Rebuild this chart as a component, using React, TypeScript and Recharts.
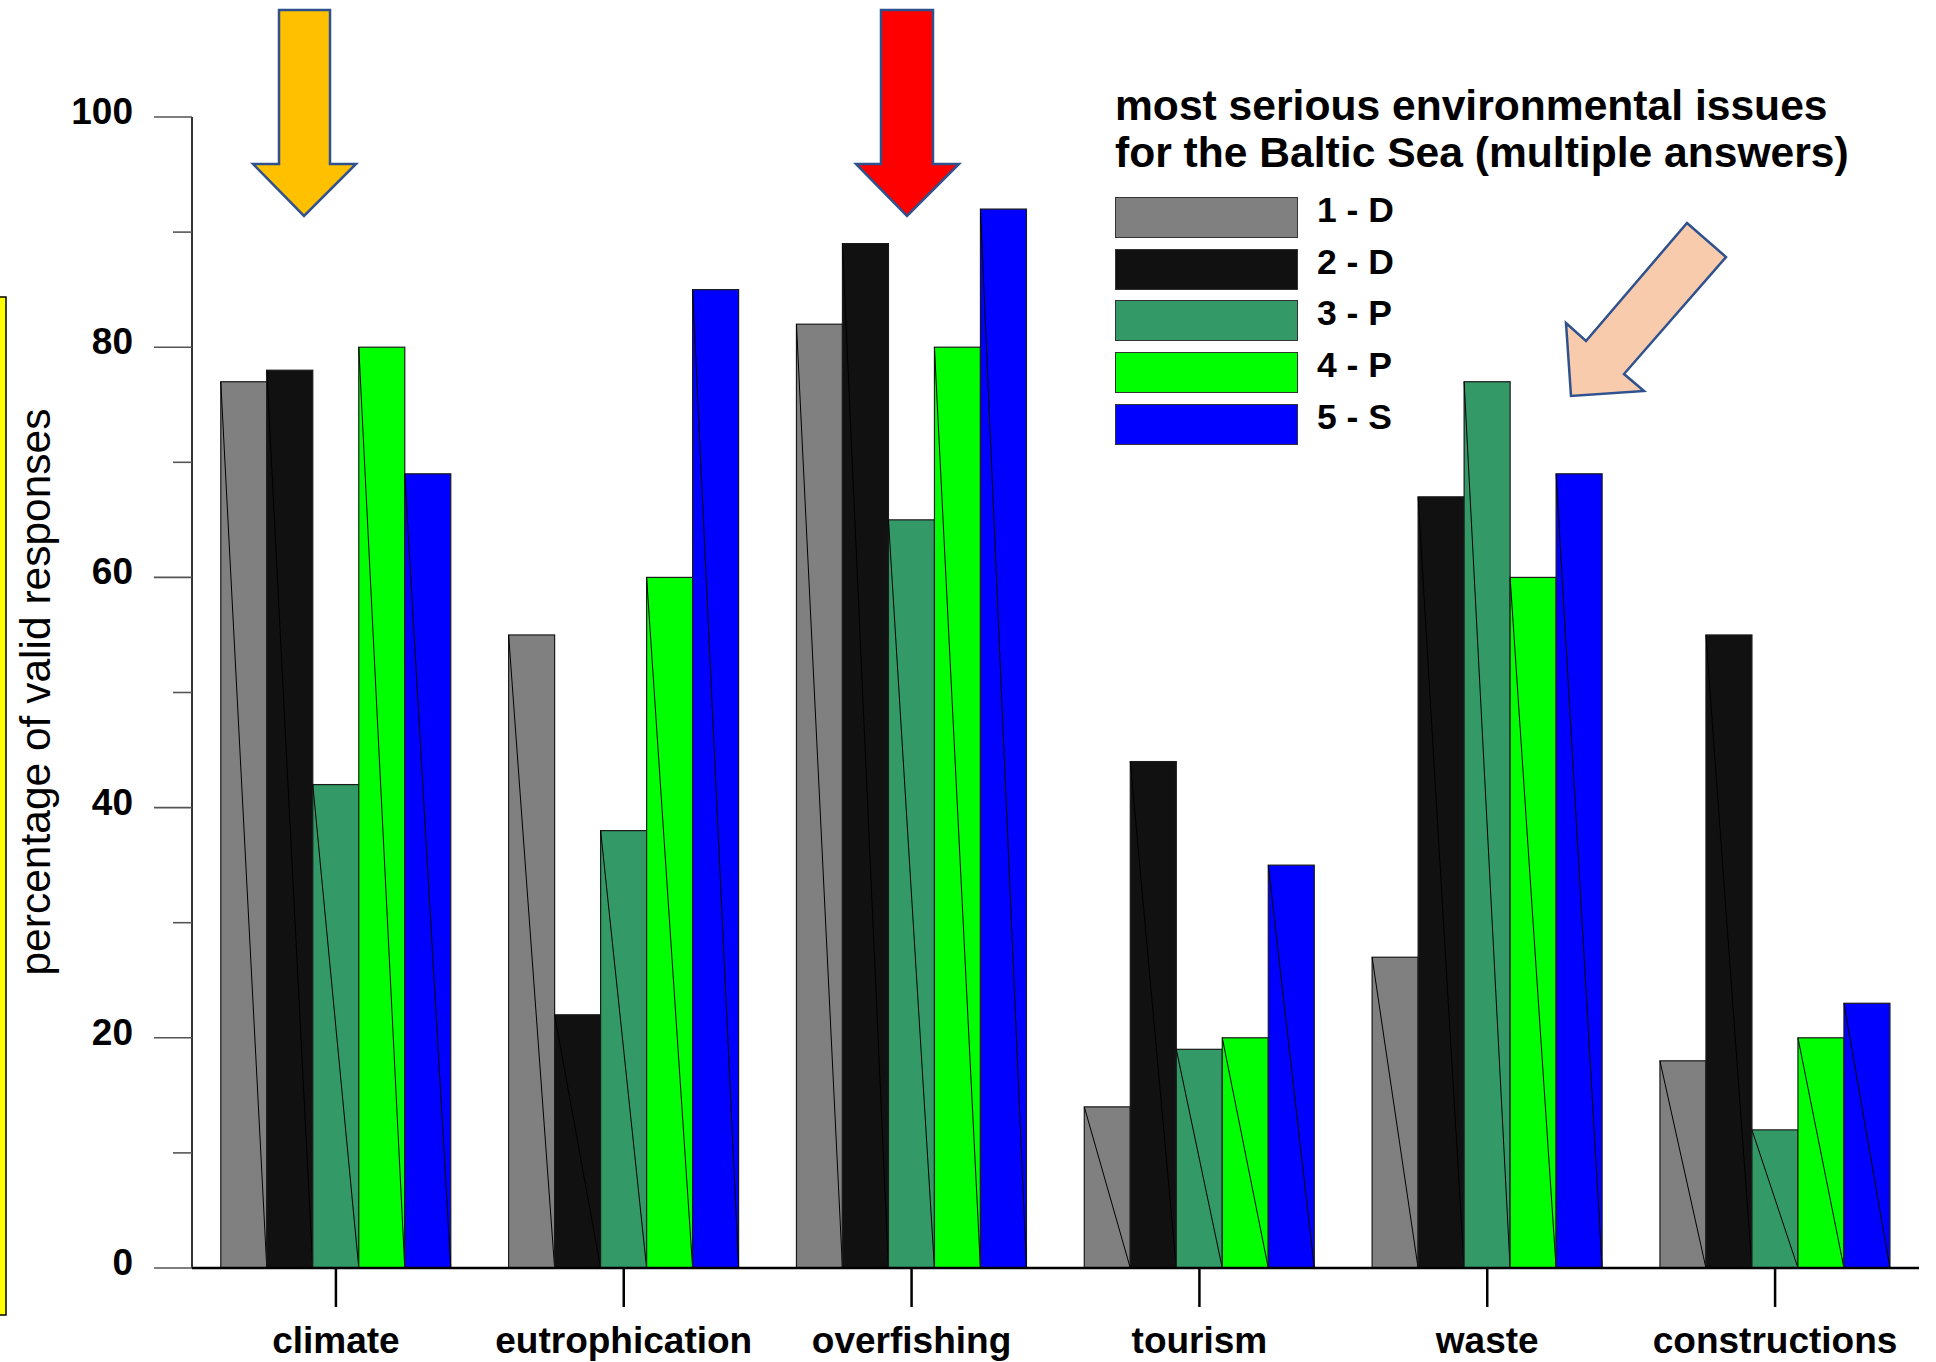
import { BarChart, Bar, XAxis, YAxis, Legend } from 'recharts'

const categories = ['climate', 'eutrophication', 'overfishing', 'tourism', 'waste', 'constructions']
const group1D = [77, 55, 82, 14, 27, 18]
const group2D = [78, 22, 89, 44, 67, 55]
const group3P = [42, 38, 65, 19, 77, 12]
const group4P = [80, 60, 80, 20, 60, 20]
const group5S = [69, 85, 92, 35, 69, 23]
const yTicks = [0, 10, 20, 30, 40, 50, 60, 70, 80, 90, 100]
const seriesKeys = ['d1', 'd2', 'p3', 'p4', 's5']
const seriesNames = ['1 - D', '2 - D', '3 - P', '4 - P', '5 - S']
const seriesColors = ['#808080', '#111111', '#339966', '#00ff00', '#0000ff']

const FONT = '"Liberation Sans", Arial, Helvetica, sans-serif'

const data = categories.map((name, i) => ({
  name,
  d1: group1D[i],
  d2: group2D[i],
  p3: group3P[i],
  p4: group4P[i],
  s5: group5S[i],
}))

// bar with the stray diagonal seen in the original export
function SlashedBar(props: any) {
  const { x, y, width, height, fill } = props
  if (!height) return null
  return (
    <g>
      <rect x={x} y={y} width={width} height={height} fill={fill} stroke="#1a1a1a" strokeWidth={1.2} />
      <line x1={x} y1={y} x2={x + width} y2={y + height} stroke="#000" strokeWidth={1} />
    </g>
  )
}

function YTick(props: any) {
  const { x, y, payload } = props
  const major = payload.value % 20 === 0
  return (
    <g>
      <line x1={x - (major ? 38 : 19)} y1={y} x2={x} y2={y} stroke="#555" strokeWidth={1.6} />
      {major && (
        <text
          x={x - 59}
          y={y}
          dy={7}
          textAnchor="end"
          fontSize={37}
          fontWeight="bold"
          fill="#000"
          fontFamily={FONT}
        >
          {payload.value}
        </text>
      )}
    </g>
  )
}

function renderLegend(props: any) {
  const payload = props.payload || []
  return (
    <div style={{ position: 'relative', fontFamily: FONT, color: '#000' }}>
      <div style={{ fontSize: 42.6, fontWeight: 'bold', lineHeight: '47px', whiteSpace: 'nowrap' }}>
        most serious environmental issues
        <br />
        for the Baltic Sea (multiple answers)
      </div>
      {payload.map((entry: any, i: number) => (
        <div key={i} style={{ position: 'absolute', left: 0, top: 115 + i * 51.7, height: 41 }}>
          <div
            style={{
              position: 'absolute',
              left: 0,
              top: 0,
              width: 181,
              height: 39,
              background: entry.color,
              border: '1.5px solid #333',
            }}
          />
          <div
            style={{
              position: 'absolute',
              left: 202,
              top: -7,
              fontSize: 35.5,
              fontWeight: 'bold',
              lineHeight: '41px',
              whiteSpace: 'nowrap',
            }}
          >
            {entry.value}
          </div>
        </div>
      ))}
    </div>
  )
}

export default function App() {
  return (
    <div style={{ position: 'absolute', left: 0, top: 0, width: 1936, height: 1362, background: '#fff' }}>
      <BarChart
        width={1936}
        height={1362}
        data={data}
        margin={{ top: 117, right: 17, bottom: 0, left: 0 }}
        barCategoryGap="10%"
        barGap={0}
      >
        <YAxis
          type="number"
          domain={[0, 100]}
          ticks={yTicks}
          interval={0}
          width={192}
          tickSize={0}
          tickMargin={0}
          tickLine={false}
          axisLine={{ stroke: '#000', strokeWidth: 1.6 }}
          tick={<YTick />}
        />
        {seriesKeys.map((key, i) => (
          <Bar
            key={key}
            dataKey={key}
            name={seriesNames[i]}
            fill={seriesColors[i]}
            shape={<SlashedBar />}
            isAnimationActive={false}
          />
        ))}
        <XAxis
          dataKey="name"
          interval={0}
          height={94}
          tickSize={39}
          tickMargin={20}
          axisLine={{ stroke: '#000', strokeWidth: 2.5 }}
          tickLine={{ stroke: '#000', strokeWidth: 2.5 }}
          tick={{ fontSize: 37, fontWeight: 'bold', fill: '#000', fontFamily: FONT }}
        />
        <Legend
          layout="vertical"
          align="center"
          verticalAlign="middle"
          content={renderLegend}
          wrapperStyle={{ left: 1115, top: 82, width: 800, height: 420 }}
        />
      </BarChart>
      <svg
        width={1936}
        height={1362}
        style={{ position: 'absolute', left: 0, top: 0, pointerEvents: 'none' }}
      >
        <rect x={-2} y={297} width={8} height={1018} fill="#ffff00" stroke="#000" strokeWidth={1.5} />
        <text
          transform="translate(50,692) rotate(-90)"
          textAnchor="middle"
          fontSize={42.5}
          fill="#000"
          fontFamily={FONT}
        >
          percentage of valid responses
        </text>
        <polygon
          points="279,10 330,10 330,164 356,164 304,216 253,164 279,164"
          fill="#ffc000"
          stroke="#2f528f"
          strokeWidth={2.5}
        />
        <polygon
          points="881,10 933,10 933,164 959,164 907,216 856,164 881,164"
          fill="#ff0000"
          stroke="#2f528f"
          strokeWidth={2.5}
        />
        <polygon
          points="1687,223 1726,257 1624,374 1644,391 1571,396 1566,323 1586,341"
          fill="#f8cbad"
          stroke="#2f528f"
          strokeWidth={2.5}
        />
      </svg>
    </div>
  )
}
